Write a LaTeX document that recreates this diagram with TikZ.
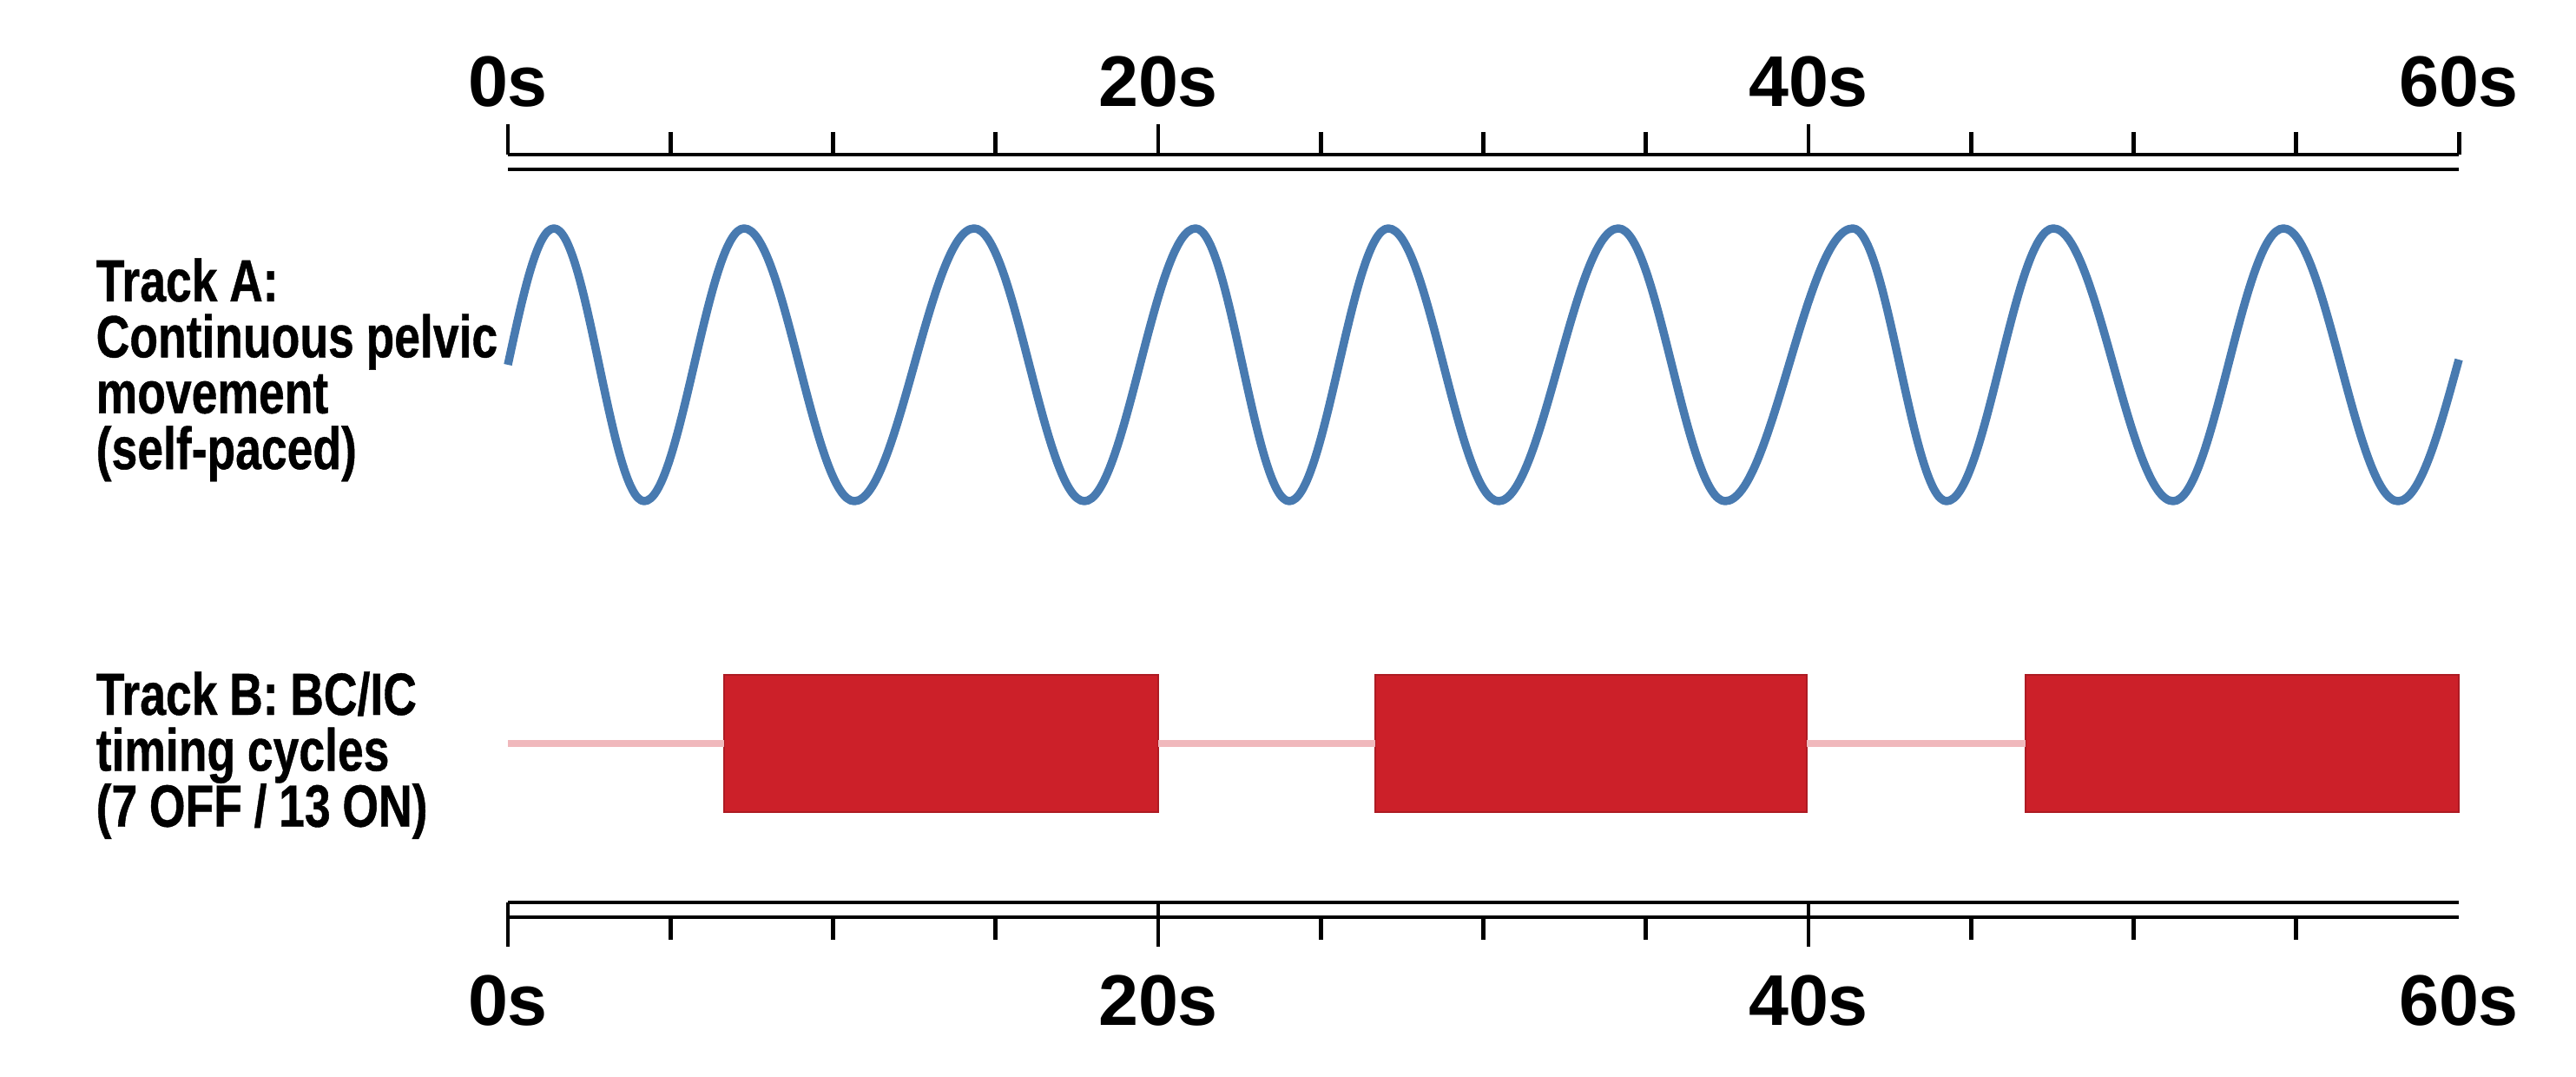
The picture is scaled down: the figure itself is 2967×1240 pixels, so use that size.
\documentclass[tikz,border=0pt]{standalone}
\usepackage{fontspec}
\setmainfont{Liberation Sans}
\newfontfamily\condsans[FakeStretch=0.78, FakeBold=0.6]{Liberation Sans}
\usepackage{tikz}
\definecolor{waveblue}{RGB}{72,122,176}
\definecolor{onred}{RGB}{204,32,41}
\definecolor{offpink}{RGB}{240,184,188}
\newcommand\tracklblfont{\condsans\bfseries\fontsize{19.5}{18.3}\selectfont\lineskiplimit=-20pt}
\newcommand\tightwords{\spaceskip=0.2em\relax}
\tikzset{
  axisline/.style ={line width=1.4pt, draw=black},
  tickmark/.style ={line width=1.4pt, draw=black},
  ticklbl/.style  ={font=\fontsize{23.5}{28}\selectfont\bfseries, anchor=base, inner sep=0pt},
  tracklbl/.style ={font=\tracklblfont, text width=5cm, align=left, anchor=base west, inner sep=0pt},
  wave/.style     ={line width=2.7pt, draw=waveblue, line join=round},
  onbar/.style    ={rectangle, fill=onred, draw=onred!85!black, line width=0.4pt,
                    minimum height=1.58cm, inner sep=0pt, outer sep=0pt},
  offline/.style  ={line width=2.4pt, draw=offpink}
}

\begin{document}
\begin{tikzpicture}[x=0.01cm, y=-0.01cm]
\useasboundingbox (0,0) rectangle (2967,1240);

\node[tracklbl] (trackA) at (110,347) {\tightwords Track A:\\Continuous pelvic\\movement\\(self-paced)};
\node[tracklbl] (trackB) at (110,823) {\tightwords Track B: BC/IC\\timing cycles\\(7 OFF / 13 ON)};

% time axis, top
\draw[axisline] (585,178) -- (2832,178);
\draw[axisline] (585,195) -- (2832,195);
\foreach \s in {0,20,40} \draw[tickmark] ({585+37.45*\s},143) -- ({585+37.45*\s},178);
\foreach \s in {5,10,15,25,30,35,45,50,55,60} \draw[tickmark] ({585+37.45*\s},152) -- ({585+37.45*\s},178);
\node[ticklbl] (top0)  at (585,123)  {0s};
\node[ticklbl] (top20) at (1334,123) {20s};
\node[ticklbl] (top40) at (2083,123) {40s};
\node[ticklbl] (top60) at (2832,123) {60s};

% track A
\draw[wave] (585,420) sin (638,263)
  \foreach \e/\v [remember=\e as \last (initially 638)] in
    {742/577, 857/263, 984/577, 1122/263, 1249/577, 1377/263, 1485/577, 1599/263,
     1726/577, 1864/263, 1987/577, 2134/263, 2242/577, 2365/263, 2503/577, 2630/263, 2762/577}
    { cos ({(\last+\e)/2},420) sin (\e,\v) }
  cos (2832,414);

% track B
\coordinate (offstart) at (585,856);
\node[onbar, minimum width=5.00cm] (on1) at (1084,856) {};
\node[onbar, minimum width=4.97cm] (on2) at (1832.5,856) {};
\node[onbar, minimum width=4.99cm] (on3) at (2582.5,856) {};
\draw[offline] (offstart) -- (on1.west);
\draw[offline] (on1.east) -- (on2.west);
\draw[offline] (on2.east) -- (on3.west);

% time axis, bottom
\draw[axisline] (585,1039) -- (2832,1039);
\draw[axisline] (585,1056) -- (2832,1056);
\foreach \s in {0,20,40} \draw[tickmark] ({585+37.45*\s},1039) -- ({585+37.45*\s},1090);
\foreach \s in {5,10,15,25,30,35,45,50,55} \draw[tickmark] ({585+37.45*\s},1056) -- ({585+37.45*\s},1082);
\node[ticklbl] (bot0)  at (585,1180)  {0s};
\node[ticklbl] (bot20) at (1334,1180) {20s};
\node[ticklbl] (bot40) at (2083,1180) {40s};
\node[ticklbl] (bot60) at (2832,1180) {60s};
\end{tikzpicture}
\end{document}
